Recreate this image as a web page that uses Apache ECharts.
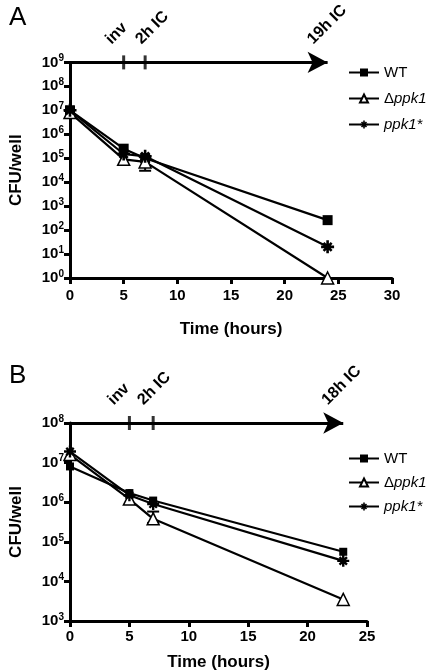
<!DOCTYPE html>
<html><head><meta charset="utf-8">
<script src="https://cdn.jsdelivr.net/npm/echarts@6/dist/echarts.min.js"></script>
<style>html,body{margin:0;padding:0;background:#fff}#c{width:433px;height:672px}</style>
</head><body><div id="c"></div>
<script>
// Panel A data
const timesA = [0, 5, 7, 24];
const wtA = [1.0e7, 2.5e5, 1.0e5, 2.6e2];
const dppk1A = [8.0e6, 9.0e4, 7.0e4, 1.0e0];
const ppk1sA = [1.0e7, 1.5e5, 1.2e5, 2.0e1];
const errA = [[7, 3.0e4, 1.1e5]];
const eventsA = [5, 7];
const eventLabelsA = ['inv', '2h IC', '19h IC'];
const eventLabelPosA = [4.1, 6.9, 22.9];
const arrowEndA = 24;

// Panel B data
const timesB = [0, 5, 7, 23];
const wtB = [8.0e6, 1.7e6, 1.1e6, 5.6e4];
const dppk1B = [1.6e7, 1.2e6, 3.8e5, 3.5e3];
const ppk1sB = [1.9e7, 1.5e6, 9.0e5, 3.3e4];
const errB = [[7, 3.0e5, 5.8e5]];
const eventsB = [5, 7];
const eventLabelsB = ['inv', '2h IC', '18h IC'];
const eventLabelPosB = [3.9, 6.4, 21.9];
const arrowEndB = 23;

const seriesNames = ['WT', 'Δppk1', 'ppk1*'];

const FONT = 'Liberation Sans, Arial, Helvetica, sans-serif';
const star = 'path://M4 0h2v10h-2z M0 4h10v2h-10z M1.2 2.6L2.6 1.2L8.8 7.4L7.4 8.8z M7.4 1.2L8.8 2.6L2.6 8.8L1.2 7.4z';
const zip = (xs, ys) => xs.map((x, i) => [x, ys[i]]);

function lineSeries(name, xs, ys, idx, sym, size, fill) {
  return {
    type: 'line', name, xAxisIndex: idx, yAxisIndex: idx, data: zip(xs, ys),
    symbol: sym, symbolSize: size, showAllSymbol: true,
    lineStyle: { color: '#000', width: 2.2 },
    itemStyle: { color: fill, borderColor: '#000', borderWidth: sym === 'triangle' ? 1.5 : 0 },
    z: 3, animation: false, clip: false
  };
}
function errSeries(err, idx) {
  return {
    type: 'custom', xAxisIndex: idx, yAxisIndex: idx, data: err, z: 2, clip: false,
    renderItem: (params, api) => {
      const lo = api.coord([api.value(0), api.value(1)]);
      const hi = api.coord([api.value(0), api.value(2)]);
      const w = 6;
      const st = { stroke: '#000', lineWidth: 2 };
      return { type: 'group', children: [
        { type: 'line', shape: { x1: lo[0], y1: lo[1], x2: hi[0], y2: hi[1] }, style: st },
        { type: 'line', shape: { x1: lo[0] - w, y1: lo[1], x2: lo[0] + w, y2: lo[1] }, style: st },
        { type: 'line', shape: { x1: hi[0] - w, y1: hi[1], x2: hi[0] + w, y2: hi[1] }, style: st }
      ]};
    }
  };
}
function topSeries(events, end, topVal, idx) {
  return [{
    type: 'scatter', xAxisIndex: idx, yAxisIndex: idx, data: events.map(e => [e, topVal]),
    symbol: 'rect', symbolSize: [3, 14], itemStyle: { color: '#000' }, clip: false, z: 4, silent: true,
    markLine: {
      silent: true, symbol: ['none', 'arrow'], symbolSize: [16, 20], label: { show: false },
      lineStyle: { color: '#000', width: 3, type: 'solid' },
      data: [[{ coord: [0, topVal] }, { coord: [end, topVal] }]]
    }
  }];
}
function yAxisCfg(idx, min, max, split) {
  return {
    type: 'log', gridIndex: idx, logBase: 10, min, max, splitNumber: split,
    axisLine: { show: true, lineStyle: { color: '#000', width: 3 } },
    axisTick: { show: true, length: 6, lineStyle: { color: '#000', width: 3 } },
    splitLine: { show: false },
    name: 'CFU/well', nameLocation: 'middle', nameGap: 45, nameRotate: 90,
    nameTextStyle: { fontFamily: FONT, fontWeight: 'bold', fontSize: 17, color: '#000' },
    axisLabel: {
      margin: 6, color: '#000',
      formatter: v => '{b|10}{s|' + Math.round(Math.log10(v)) + '}',
      rich: {
        b: { fontFamily: FONT, fontWeight: 'bold', fontSize: 15, color: '#000' },
        s: { fontFamily: FONT, fontWeight: 'bold', fontSize: 10, color: '#000', padding: [0, 0, 8, 0] }
      }
    }
  };
}
function xAxisCfg(idx, max, margin, gap) {
  return {
    type: 'value', gridIndex: idx, min: 0, max, interval: 5,
    axisLine: { show: true, lineStyle: { color: '#000', width: 3 } },
    axisTick: { show: true, length: 6, lineStyle: { color: '#000', width: 3 } },
    splitLine: { show: false },
    axisLabel: { color: '#000', fontFamily: FONT, fontWeight: 'bold', fontSize: 15, margin },
    name: 'Time (hours)', nameLocation: 'middle', nameGap: gap,
    nameTextStyle: { fontFamily: FONT, fontWeight: 'bold', fontSize: 17, color: '#000' }
  };
}
function topAxisCfg(idx, max, pos, labels) {
  return {
    type: 'value', gridIndex: idx, position: 'top', min: 0, max,
    axisLine: { show: false }, axisTick: { show: false }, splitLine: { show: false },
    axisLabel: {
      show: true, rotate: -45, margin: 15, customValues: pos, align: 'left', verticalAlign: 'bottom',
      color: '#000', fontFamily: FONT, fontWeight: 'bold', fontSize: 16,
      formatter: v => labels[pos.indexOf(v)] || ''
    }
  };
}
function legendCfg(top, gap) {
  return {
    orient: 'vertical', left: 343, top, itemGap: gap, itemWidth: 30, itemHeight: 10,
    data: seriesNames,
    formatter: n => n === 'WT' ? 'WT' : (n === 'Δppk1' ? 'Δ{i|ppk1}' : '{i|ppk1*}'),
    textStyle: { fontFamily: FONT, fontSize: 15, color: '#000', rich: { i: { fontFamily: FONT, fontSize: 15, fontStyle: 'italic', color: '#000' } } }
  };
}

const chart = echarts.init(document.getElementById('c'), null, { renderer: 'canvas' });
chart.setOption({
  animation: false,
  backgroundColor: '#fff',
  title: [
    { text: 'A', left: 4, top: 0, textStyle: { fontFamily: FONT, fontWeight: 'normal', fontSize: 26, color: '#000' } },
    { text: 'B', left: 4, top: 358, textStyle: { fontFamily: FONT, fontWeight: 'normal', fontSize: 26, color: '#000' } }
  ],
  grid: [
    { left: 62, top: 60, width: 330, height: 218 },
    { left: 62, top: 423, width: 305, height: 204 }
  ],
  xAxis: [xAxisCfg(0, 30, 10, 43), xAxisCfg(1, 25, 8, 33), topAxisCfg(0, 30, eventLabelPosA, eventLabelsA), topAxisCfg(1, 25, eventLabelPosB, eventLabelsB)],
  yAxis: [yAxisCfg(0, 1, 1e9, 9), yAxisCfg(1, 1e3, 1e8, 5)],
  legend: [legendCfg(60, 11), legendCfg(446, 9)],
  series: [
    lineSeries('WT', timesA, wtA, 0, 'rect', 10, '#000'),
    lineSeries('Δppk1', timesA, dppk1A, 0, 'triangle', 12, '#fff'),
    lineSeries('ppk1*', timesA, ppk1sA, 0, star, 13, '#000'),
    errSeries(errA, 0),
    ...topSeries(eventsA, arrowEndA, 1e9, 0),
    lineSeries('WT', timesB, wtB, 1, 'rect', 8, '#000'),
    lineSeries('Δppk1', timesB, dppk1B, 1, 'triangle', 12, '#fff'),
    lineSeries('ppk1*', timesB, ppk1sB, 1, star, 12, '#000'),
    errSeries(errB, 1),
    ...topSeries(eventsB, arrowEndB, 1e8, 1)
  ]
});
</script></body></html>
